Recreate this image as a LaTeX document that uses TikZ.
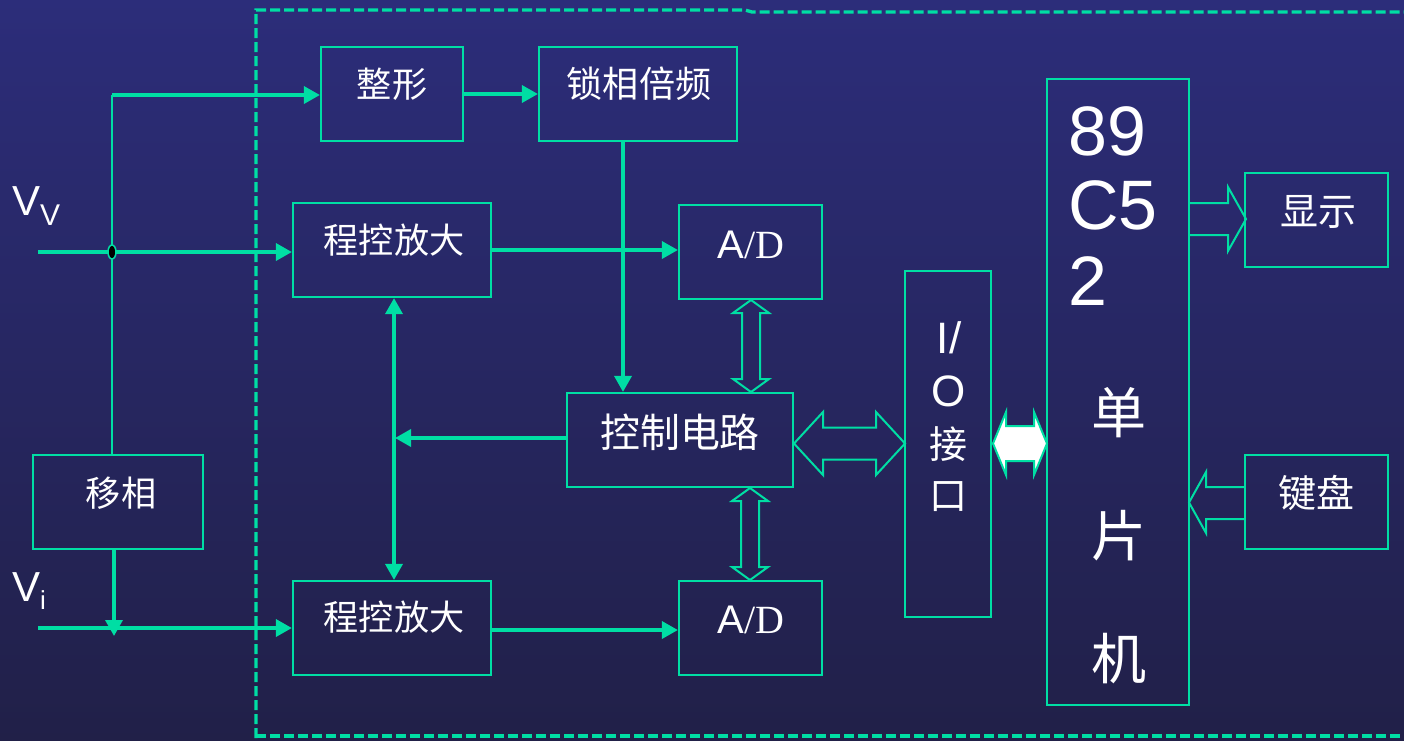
\documentclass[tikz,border=0pt]{standalone}
\usepackage{fontspec}
\setmainfont{Liberation Sans}
\newfontfamily\cjk{Noto Sans CJK SC}[Scale=0.95]
\newfontfamily\serifd{Liberation Serif}
\usetikzlibrary{arrows.meta,calc}
\definecolor{bgtop}{RGB}{44,45,122}
\definecolor{bgbot}{RGB}{33,32,72}
\definecolor{tq}{RGB}{0,222,164}
\newcommand\fsz[1]{\fontsize{#1}{#1}\selectfont}
% horizontal block double arrow: x1 x2 y headhalf shafthalf headlen
\newcommand\hdblarrow[7][]{\draw[blk,#1] (#2,#4) -- (#2+#7,#4-#5) -- (#2+#7,#4-#6) -- (#3-#7,#4-#6) -- (#3-#7,#4-#5) -- (#3,#4) -- (#3-#7,#4+#5) -- (#3-#7,#4+#6) -- (#2+#7,#4+#6) -- (#2+#7,#4+#5) -- cycle;}
% vertical block double arrow: x y1 y2 headhalf shafthalf headlen
\newcommand\vdblarrow[6]{\draw[blk] (#1,#2) -- (#1-#4,#2+#6) -- (#1-#5,#2+#6) -- (#1-#5,#3-#6) -- (#1-#4,#3-#6) -- (#1,#3) -- (#1+#4,#3-#6) -- (#1+#5,#3-#6) -- (#1+#5,#2+#6) -- (#1+#4,#2+#6) -- cycle;}
\begin{document}
\begin{tikzpicture}[x=1pt,y=-1pt,
  box/.style={draw=tq, line width=2.2pt, inner sep=0pt},
  lbl/.style={text=white, inner sep=0pt},
  ctxt/.style={lbl, font=\cjk\fsz{#1}},
  conn/.style={draw=tq, line width=3.5pt, -{Triangle[length=16pt,width=17pt]}},
  thinl/.style={draw=tq, line width=2pt},
  blk/.style={draw=tq, line width=2pt, line join=miter},
  frame/.style={draw=tq, line width=3.3pt, dash pattern=on 10pt off 4pt}]
\shade[top color=bgtop, bottom color=bgbot] (0,0) rectangle (1404,740);
\useasboundingbox (0,0) rectangle (1404,740);
% dashed frame
\draw[frame] (256,738) -- (256,10) -- (745,10) -- (752,12) -- (1410,12);
\draw[frame] (256,736) -- (1410,736);
% boxes
\node[box, minimum width=142, minimum height=94] (zx) at (392,94) {};
\node[box, minimum width=198, minimum height=94] (sx) at (638,94) {};
\node[box, minimum width=198, minimum height=94] (amp1) at (392,250) {};
\node[box, minimum width=143, minimum height=94] (ad1) at (750.5,252) {};
\node[box, minimum width=226, minimum height=94] (ctl) at (680,440) {};
\node[box, minimum width=86, minimum height=346] (io) at (948,444) {};
\node[box, minimum width=142, minimum height=626] (mcu) at (1118,392) {};
\node[box, minimum width=143, minimum height=94] (disp) at (1316.5,220) {};
\node[box, minimum width=143, minimum height=94] (kbd) at (1316.5,502) {};
\node[box, minimum width=170, minimum height=94] (ps) at (118,502) {};
\node[box, minimum width=198, minimum height=94] (amp2) at (392,628) {};
\node[box, minimum width=143, minimum height=94] (ad2) at (750.5,628) {};
% labels
\node[ctxt=37] at (392,84) {整形};
\node[ctxt=38] at (639,84) {锁相倍频};
\node[ctxt=37] at (394,240) {程控放大};
\node[ctxt=37] at (394,617) {程控放大};
\node[lbl, anchor=base] at (751,258) {\fsz{40}A\serifd/D};
\node[lbl, anchor=base] at (751,633) {\fsz{40}A\serifd/D};
\node[ctxt=42] at (680,432) {控制电路};
\node[ctxt=37] at (121,493) {移相};
\node[ctxt=40] at (1318,212) {显示};
\node[ctxt=40] at (1316,493) {键盘};
\node[lbl, anchor=base, font=\fsz{44}] at (949,353) {I/};
\node[lbl, anchor=base, font=\fsz{44}] at (949,406) {O};
\node[ctxt=40] at (948,444) {接};
\node[ctxt=40] at (948,497) {口};
\node[lbl, anchor=base west, font=\fsz{70}] at (1068,155) {89};
\node[lbl, anchor=base west, font=\fsz{70}] at (1068,229) {C5};
\node[lbl, anchor=base west, font=\fsz{70}] at (1068,305) {2};
\node[ctxt=58] at (1119,413) {单};
\node[ctxt=58] at (1119,536) {片};
\node[ctxt=58] at (1119,659) {机};
\node[lbl, anchor=base west, font=\fsz{42}] (vvl) at (12,215) {V\raisebox{-10pt}{\fsz{30}V}};
\node[lbl, anchor=base west, font=\fsz{42}] (vil) at (12,601) {V\raisebox{-8pt}{\fsz{26}i}};
% signal lines
\coordinate (vvs) at (38,252);
\coordinate (vis) at (38,628);
\coordinate (tp) at (112,95);
\coordinate (vij) at (114,636);
\draw[thinl] (tp) -- (tp |- ps.north);
\draw[conn] (tp) -- (tp -| zx.west);
\draw[conn] (vvs) -- (vvs -| amp1.west);
\draw[tq, line width=1.5pt, fill=black] (112,252) ellipse [x radius=4, y radius=7];
\draw[conn] (zx.east) -- (sx.west);
\draw[conn] ([xshift=-15pt]sx.south) -- ([xshift=-15pt]sx.south |- ctl.north);
\draw[conn] (amp1.east) -- (amp1.east -| ad1.west);
\coordinate (vx) at ([xshift=2pt]amp1.south);
\draw[conn, {Triangle[length=16pt,width=17pt]}-{Triangle[length=16pt,width=17pt]}] (vx) -- (vx |- amp2.north);
\coordinate (cw) at ([yshift=2pt]ctl.west);
\draw[conn] (cw) -- ([xshift=1pt]cw -| vx);
\draw[conn] ([xshift=-4pt]ps.south) -- (vij);
\draw[conn] (vis) -- (vis -| amp2.west);
\coordinate (a2e) at ([yshift=-2pt]amp2.east);
\draw[conn] (a2e) -- (a2e -| ad2.west);
% block arrows
\vdblarrow{751}{300}{392}{18}{9}{13}
\vdblarrow{750}{488}{580}{18}{9}{13}
\hdblarrow{794}{905}{443.5}{31.5}{16}{29}
\hdblarrow[fill=white]{993}{1047}{443.5}{31.5}{17.5}{13}
\draw[blk] (1190,203) -- (1228,203) -- (1228,187) -- (1246,219) -- (1228,251) -- (1228,235) -- (1190,235);
\draw[blk] (1245,487) -- (1206,487) -- (1206,472) -- (1189,502.5) -- (1206,533) -- (1206,519) -- (1245,519);
\end{tikzpicture}
\end{document}
